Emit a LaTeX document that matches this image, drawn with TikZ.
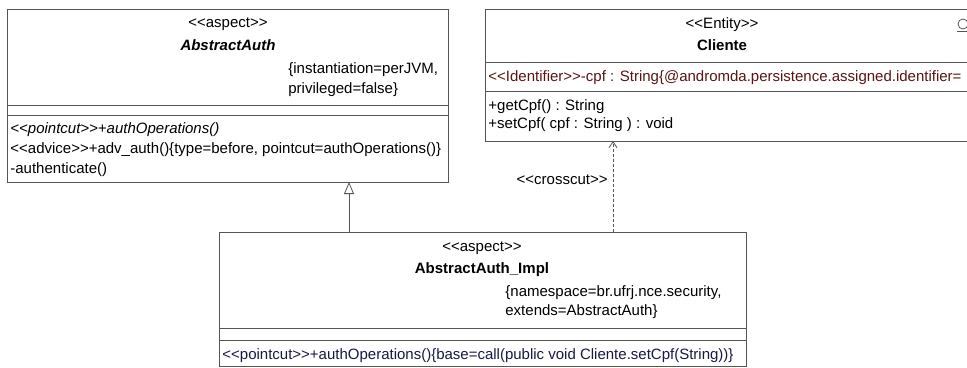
\documentclass[tikz,border=0pt]{standalone}
\usepackage{fontspec}
\setmainfont{Liberation Sans}
\usetikzlibrary{arrows.meta}
\definecolor{linha}{RGB}{85,85,85}
\definecolor{tagvermelho}{RGB}{90,20,20}
\definecolor{azulescuro}{RGB}{25,25,70}
\newcommand{\estereo}[1]{<{}<#1>{}>}

\begin{document}
\begin{tikzpicture}[x=1pt,y=-1pt,line width=0.8pt,
  classe/.style={draw=linha,inner sep=0pt,outer sep=0pt,anchor=north west},
  txt/.style={inner sep=0pt,font=\fontsize{15}{18}\selectfont,anchor=base west},
  ctxt/.style={txt,anchor=base},
  heranca/.style={draw=linha,-{Triangle[open,length=12pt,width=10pt]}},
  dep/.style={draw=linha,dash pattern=on 3pt off 2pt,-{Straight Barb[length=6pt,width=8pt]}}]
  \useasboundingbox (0,0) rectangle (967,367);
  \clip (0,0) rectangle (967,367);
  % caixas das classes
  \node[classe,minimum width=441pt,minimum height=173pt] (abs) at (7,9) {};
  \node[classe,minimum width=500pt,minimum height=132pt] (cli) at (485,9) {};
  \node[classe,minimum width=527pt,minimum height=134pt] (impl) at (219,232) {};
  \foreach \no/\d in {abs/96,abs/106,cli/53,cli/82,impl/96,impl/108}
    \draw[linha] ([yshift=-\d]\no.north west) -- ([yshift=-\d]\no.north east);
  % aspecto abstrato
  \node[ctxt] (absSt) at (228,27) {\estereo{aspect}};
  \node[ctxt,font=\fontsize{15}{18}\selectfont\bfseries\itshape] (absNome) at (228,50) {AbstractAuth};
  \node[txt] (absTag1) at (288,73) {\{instantiation=perJVM,};
  \node[txt] (absTag2) at (288,93) {privileged=false\}};
  \node[txt,font=\fontsize{15}{18}\selectfont\itshape] (absOp1) at (10,133) {\estereo{pointcut}+authOperations()};
  \node[txt] (absOp2) at (10,153) {\estereo{advice}+adv\_auth()\{type=before, pointcut=authOperations()\}};
  \node[txt] (absOp3) at (10,173) {-authenticate()};
  % entidade
  \node[ctxt] (cliSt) at (722,28) {\estereo{Entity}};
  \node[ctxt,font=\fontsize{15}{18}\selectfont\bfseries] (cliNome) at (722,50) {Cliente};
  \draw[linha] (963,24) circle (5);
  \draw[linha] (957,31) -- (970,31);
  \node[txt,tagvermelho] (cliAt) at (488,81) {\estereo{Identifier}-cpf : String\{@andromda.persistence.assigned.identifier=};
  \node[txt] (cliOp1) at (488,110) {+getCpf() : String};
  \node[txt] (cliOp2) at (488,128) {+setCpf( cpf : String ) : void};
  % aspecto concreto
  \node[ctxt] (implSt) at (482,251) {\estereo{aspect}};
  \node[ctxt,font=\fontsize{15}{18}\selectfont\bfseries] (implNome) at (482,273) {AbstractAuth\_Impl};
  \node[txt] (implTag1) at (505,296) {\{namespace=br.ufrj.nce.security,};
  \node[txt] (implTag2) at (505,315) {extends=AbstractAuth\}};
  \node[txt,azulescuro] (implOp) at (222,359) {\estereo{pointcut}+authOperations()\{base=call(public void Cliente.setCpf(String))\}};
  % relacoes
  \coordinate (herA) at ([xshift=130]impl.north west);
  \draw[heranca] (herA) -- (herA |- abs.south);
  \coordinate (cutA) at ([xshift=394]impl.north west);
  \draw[dep] (cutA) -- (cutA |- cli.south)
    node[pos=0.57,left=5pt,inner sep=0pt,font=\fontsize{15}{18}\selectfont] (cutRot) {\estereo{crosscut}};
\end{tikzpicture}
\end{document}
